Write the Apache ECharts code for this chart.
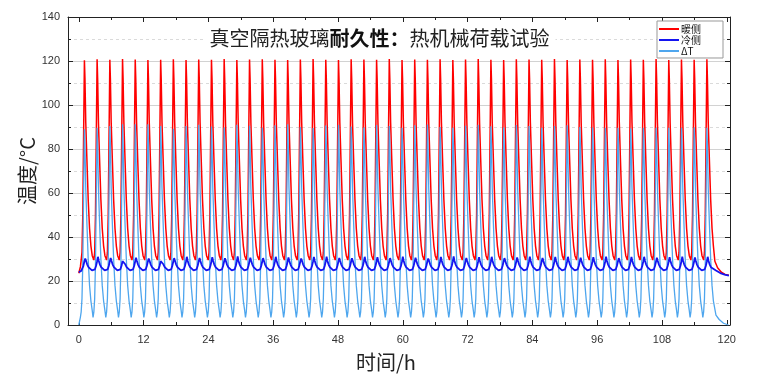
<!DOCTYPE html>
<html>
<head>
<meta charset="utf-8">
<title>真空隔热玻璃耐久性：热机械荷载试验</title>
<script src="https://cdn.jsdelivr.net/npm/echarts@6/dist/echarts.min.js"></script>
<style>
  html, body { margin: 0; padding: 0; background: #fff; }
  #chart { width: 759px; height: 377px; }
</style>
</head>
<body>
<div id="chart"></div>
<script>
// x轴刻度
var xMajorTicks = [0, 12, 24, 36, 48, 60, 72, 84, 96, 108, 120];
var xMinorTicks = [6, 18, 30, 42, 54, 66, 78, 90, 102, 114];

// 每个循环暖侧峰值出现的时刻 (h)
var peakTimes = [1.04, 3.39, 5.75, 8.10, 10.45, 12.80, 15.16, 17.51, 19.86, 22.21,
  24.57, 26.92, 29.27, 31.62, 33.98, 36.33, 38.68, 41.03, 43.39, 45.74,
  48.09, 50.44, 52.80, 55.15, 57.50, 59.86, 62.21, 64.56, 66.91, 69.27,
  71.62, 73.97, 76.32, 78.68, 81.03, 83.38, 85.73, 88.09, 90.44, 92.79,
  95.14, 97.50, 99.85, 102.20, 104.55, 106.91, 109.26, 111.61, 113.96, 116.32];

// 每个循环的峰值
var warmPeaks = [120.3, 120.8, 120.6, 120.9, 120.7, 120.4, 120.6, 120.8, 120.5, 120.7,
  120.6, 120.9, 120.5, 120.7, 120.8, 120.6, 120.4, 120.7, 120.9, 120.6,
  120.5, 120.8, 120.7, 120.6, 120.9, 120.5, 120.7, 120.6, 120.8, 120.4,
  120.7, 120.9, 120.6, 120.5, 120.8, 120.7, 120.6, 120.9, 120.5, 120.7,
  120.6, 120.8, 120.4, 120.7, 120.6, 120.9, 120.5, 120.7, 120.6, 120.8];
var coldPeaks = [30.2, 31.0, 30.5, 29.8, 30.6, 30.2, 29.8, 30.4, 31.0, 30.5,
  30.8, 30.3, 31.2, 30.6, 30.4, 31.0, 30.7, 30.2, 30.9, 31.1,
  30.5, 30.3, 31.0, 30.8, 30.4, 31.1, 30.6, 30.2, 30.9, 31.2,
  30.5, 30.8, 31.0, 30.4, 30.7, 31.1, 30.5, 30.9, 31.0, 30.6,
  30.8, 31.1, 30.4, 30.9, 31.0, 30.6, 30.8, 31.1, 30.7, 31.0];
var dTPeaks = [89.0, 89.7, 90.4, 91.2, 91.2, 91.2, 90.4, 89.2, 90.5, 91.0,
  90.2, 89.8, 91.0, 90.6, 89.6, 90.8, 91.2, 90.0, 89.5, 90.7,
  91.0, 90.2, 89.8, 90.9, 90.4, 89.6, 90.8, 91.1, 90.0, 89.7,
  90.6, 91.0, 90.3, 89.8, 90.9, 90.4, 89.6, 90.5, 90.8, 90.0,
  89.8, 89.6, 89.6, 89.3, 89.6, 89.6, 89.6, 89.6, 89.8, 89.6];

// 一个循环的形状：相对峰值时刻的偏移(h) 与温度(°C)，null 处取该循环峰值
var warmOffset = [-0.6, -0.45, -0.3, -0.15, 0, 0.1, 0.25, 0.45, 0.7, 0.95, 1.2, 1.45];
var warmShape  = [29.5, 33, 50, 86, null, 112, 92, 76, 57, 44, 36, 31.5];
var coldOffset = [-0.6, -0.4, -0.2, 0, 0.15, 0.3, 0.5, 0.75, 1.05, 1.4];
var coldShape  = [24.6, 25.3, 26.8, 29, null, 29.2, 27.6, 26.3, 25.4, 24.8];
var dTOffset = [-0.75, -0.6, -0.45, -0.3, -0.15, 0, 0.1, 0.25, 0.45, 0.7, 0.95, 1.2, 1.45];
var dTShape  = [3.5, 6, 12, 28, 60, null, 82, 62, 47, 30, 18, 11, 6.5];

// 开始与结束段 [时间, 温度]
var warmHead = [[0, 23.5], [0.3, 26.5]];
var warmTail = [[117.8, 29], [118.3, 26], [119, 24], [119.7, 23], [120.4, 22.6]];
var coldHead = [[0, 24]];
var coldTail = [[118, 24.8], [118.8, 23.6], [119.6, 22.9], [120.4, 22.4]];
var dTHead = [[0, 0]];
var dTTail = [[118, 4.5], [118.6, 2.5], [119.4, 0.8], [120.3, 0]];

function buildSeries(head, offsets, shape, peaks, tail, lastMax) {
  var data = head.slice();
  peakTimes.forEach(function (tp, i) {
    offsets.forEach(function (off, j) {
      if (i === peakTimes.length - 1 && off > lastMax) return;
      data.push([+(tp + off).toFixed(2), shape[j] === null ? peaks[i] : shape[j]]);
    });
  });
  return data.concat(tail);
}

var warmData = buildSeries(warmHead, warmOffset, warmShape, warmPeaks, warmTail, 1.2);
var coldData = buildSeries(coldHead, coldOffset, coldShape, coldPeaks, coldTail, 1.05);
var dTData = buildSeries(dTHead, dTOffset, dTShape, dTPeaks, dTTail, 1.2);

var frameColor = '#222';
var labelFont = 'Liberation Sans';
var cjkFont = 'Noto Sans CJK SC';

function tickAxis(pos, values, len, grid) {
  return {
    type: 'value', gridIndex: grid, position: pos, min: -2, max: 120.6,
    axisLine: { show: false, onZero: false },
    axisTick: { show: true, inside: true, length: len, customValues: values, lineStyle: { color: frameColor } },
    axisLabel: { show: false },
    splitLine: { show: false }
  };
}

var chart = echarts.init(document.getElementById('chart'));
var option = {
  animation: false,
  backgroundColor: '#fff',
  color: ['#ff0000', '#1414f0', '#4ea6ee'],
  title: {
    text: '{n|真空隔热玻璃}{b|耐久性：}{n|热机械荷载试验}',
    left: 'center',
    top: 27,
    padding: [1, 6],
    backgroundColor: '#fff',
    textStyle: {
      fontWeight: 'normal',
      rich: {
        n: { fontSize: 20, fontFamily: cjkFont, color: '#222', fontWeight: 'normal' },
        b: { fontSize: 20, fontFamily: cjkFont, color: '#111', fontWeight: 'bold' }
      }
    }
  },
  legend: {
    orient: 'vertical',
    left: 657,
    top: 21,
    padding: [3, 22, 2, 2],
    itemGap: 1,
    itemWidth: 20,
    itemHeight: 2,
    icon: 'rect',
    borderColor: '#999',
    borderWidth: 1,
    backgroundColor: '#fff',
    textStyle: { fontSize: 10, color: '#111', fontFamily: cjkFont, padding: [0, 0, 0, -3], lineHeight: 9 },
    data: ['暖侧', '冷侧', 'ΔT']
  },
  grid: [
    { left: 68, right: 29, top: 17, bottom: 52 },
    { left: 68, right: 29, top: 17, bottom: 52 }
  ],
  xAxis: [
    {
      type: 'value', gridIndex: 0, position: 'bottom', min: -2, max: 120.6,
      name: '时间/h', nameLocation: 'middle', nameGap: 27, nameMoveOverlap: false,
      nameTextStyle: { fontSize: 20, fontFamily: cjkFont, color: '#222', padding: [0, 26, 0, 0] },
      axisLine: { show: true, onZero: false, lineStyle: { color: frameColor, width: 1 } },
      axisTick: { show: true, inside: true, length: 5, customValues: xMajorTicks, lineStyle: { color: frameColor } },
      axisLabel: { customValues: xMajorTicks, fontSize: 11, color: '#333', fontFamily: labelFont, margin: 9 },
      splitLine: { show: false }
    },
    {
      type: 'value', gridIndex: 0, position: 'top', min: -2, max: 120.6,
      axisLine: { show: true, onZero: false, lineStyle: { color: frameColor, width: 1 } },
      axisTick: { show: true, inside: true, length: 5, customValues: xMajorTicks, lineStyle: { color: frameColor } },
      axisLabel: { show: false },
      splitLine: { show: false }
    },
    tickAxis('bottom', xMinorTicks, 3, 1),
    tickAxis('top', xMinorTicks, 3, 1)
  ],
  yAxis: [
    {
      type: 'value', gridIndex: 0, position: 'left', min: 0, max: 140, interval: 20,
      name: '温度/°C', nameLocation: 'middle', nameGap: 31, nameMoveOverlap: false,
      nameTextStyle: { fontSize: 20, fontFamily: cjkFont, color: '#222', padding: [0, 0, 0, 0] },
      axisLine: { show: true, onZero: false, lineStyle: { color: frameColor, width: 1 } },
      axisTick: { show: true, inside: true, length: 5, lineStyle: { color: frameColor } },
      minorTick: { show: true, splitNumber: 2, length: 3, lineStyle: { color: frameColor } },
      axisLabel: { fontSize: 11, color: '#333', fontFamily: labelFont, margin: 8 },
      splitLine: { show: true, lineStyle: { color: '#d2d2d2', width: 1 } },
      minorSplitLine: { show: true, lineStyle: { color: '#dadada', width: 1, type: [3, 3] } }
    },
    {
      type: 'value', gridIndex: 0, position: 'right', min: 0, max: 140, interval: 20,
      axisLine: { show: true, onZero: false, lineStyle: { color: frameColor, width: 1 } },
      axisTick: { show: true, inside: true, length: 5, lineStyle: { color: frameColor } },
      minorTick: { show: true, splitNumber: 2, length: 3, lineStyle: { color: frameColor } },
      axisLabel: { show: false },
      splitLine: { show: false }
    },
    { type: 'value', gridIndex: 1, min: 0, max: 140, show: false }
  ],
  series: [
    {
      name: '暖侧', type: 'line', xAxisIndex: 0, yAxisIndex: 0, symbol: 'none', z: 2,
      lineStyle: { width: 1.5, color: '#ff0000' }, itemStyle: { color: '#ff0000' },
      data: warmData
    },
    {
      name: 'ΔT', type: 'line', xAxisIndex: 0, yAxisIndex: 0, symbol: 'none', z: 3,
      lineStyle: { width: 1.3, color: '#4ea6ee' }, itemStyle: { color: '#4ea6ee' },
      data: dTData
    },
    {
      name: '冷侧', type: 'line', xAxisIndex: 0, yAxisIndex: 0, symbol: 'none', z: 4,
      lineStyle: { width: 1.8, color: '#1414f0' }, itemStyle: { color: '#1414f0' },
      data: coldData
    }
  ]
};
chart.setOption(option);
</script>
</body>
</html>
